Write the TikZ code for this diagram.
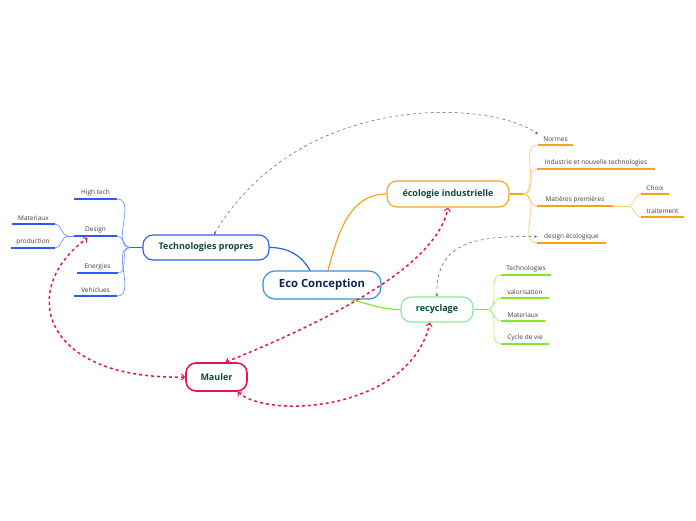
\documentclass[tikz,border=0pt]{standalone}
\usepackage{fontspec}
\setmainfont{Open Sans}
\usetikzlibrary{arrows.meta, positioning, calc}

\definecolor{ecoblue}{HTML}{3A8FD8}
\definecolor{techblue}{HTML}{2B5CF2}
\definecolor{techlight}{HTML}{7099FA}
\definecolor{ecolorange}{HTML}{F8A21C}
\definecolor{ecollight}{HTML}{FBC877}
\definecolor{recgreen}{HTML}{86E62A}
\definecolor{reclight}{HTML}{B0EE6C}
\definecolor{recbox}{HTML}{86E8A0}
\definecolor{maulred}{HTML}{E3145A}
\definecolor{topictext}{HTML}{0E4A3A}
\definecolor{centretext}{HTML}{12234F}
\definecolor{leaftext}{HTML}{3D3D3D}

\begin{document}
\begin{tikzpicture}[x=1pt, y=1pt, >=Stealth,
  centre/.style={draw=ecoblue, rounded corners=12pt, fill=white, line width=1.2pt,
        inner sep=0pt, text=centretext, font=\bfseries\fontsize{11.3}{13}\selectfont},
  topic/.style={draw, rounded corners=10pt, fill=white, line width=1.1pt,
        minimum height=25pt, inner sep=0pt, text=topictext,
        font=\bfseries\fontsize{9}{11}\selectfont},
  leaf/.style={anchor=south, inner xsep=0pt, inner ysep=3pt, text=leaftext,
        font=\fontsize{6.5}{8}\selectfont},
  twig/.style={line width=0.7pt},
  uline/.style={line width=1.6pt},
  relation/.style={gray!70!black, line width=0.5pt, dash pattern=on 3pt off 3pt,
        {Stealth[length=2.5pt, width=2.5pt]}-{Stealth[length=2.5pt, width=2.5pt]}},
  link/.style={maulred, line width=1.5pt, dash pattern=on 3pt off 3pt,
        {Straight Barb[length=3pt, width=6pt, line width=1pt]}-{Straight Barb[length=3pt, width=6pt, line width=1pt]}}
]
  \useasboundingbox (0,0) rectangle (696,-520);

  % main topics
  \node[centre, minimum width=118, minimum height=28] (eco) at (322,-285) {Eco Conception};
  \node[topic, draw=techblue, minimum width=126] (tech) at (206,-247.5) {Technologies propres};
  \node[topic, draw=ecolorange, minimum width=122, minimum height=26] (ecol) at (448,-194) {écologie industrielle};
  \node[topic, draw=recbox, minimum width=72] (rec) at (437,-309.5) {recyclage};
  \node[topic, draw=maulred, line width=1.6pt, minimum width=61, minimum height=28] (mauler) at (216.5,-377) {Mauler};

  % Technologies propres
  \node[leaf, minimum width=43] (hightech) at (95.5,-199) {High tech};
  \node[leaf, minimum width=43] (design) at (95.5,-236) {Design};
  \node[leaf, minimum width=41] (energies) at (97.5,-273) {Energies};
  \node[leaf, minimum width=43] (vehicules) at (95.5,-296) {Vehiclues};
  \node[leaf, minimum width=43] (materiaux) at (33.5,-224) {Materiaux};
  \node[leaf, minimum width=44] (production) at (33,-248) {production};
  \coordinate (techjoint) at (130,-247.5);
  \coordinate (designjoint) at (68,-236);

  % écologie industrielle
  \node[leaf, minimum width=35] (normes) at (555.5,-145) {Normes};
  \node[leaf, minimum width=118] (industrie) at (596,-169) {Industrie et nouvelle technologies};
  \node[leaf, minimum width=76] (matieres) at (575,-206) {Matières premières};
  \node[leaf, minimum width=28] (choix) at (655,-194) {Choix};
  \node[leaf, minimum width=43] (traitement) at (662.5,-217) {traitement};
  \node[leaf, minimum width=69] (designeco) at (571.5,-243) {design écologique};
  \coordinate (ecoljoint) at (523,-194);
  \coordinate (matjoint) at (628,-206);

  % recyclage
  \node[leaf, minimum width=50] (technos) at (526,-275) {Technologies};
  \node[leaf, minimum width=48] (valorisation) at (525,-298) {valorisation};
  \node[leaf, minimum width=44] (materiauxr) at (523,-321) {Materiaux};
  \node[leaf, minimum width=48] (cycle) at (525,-344) {Cycle de vie};
  \coordinate (recjoint) at (487,-309.5);

  % branches from the centre
  \draw[techblue, line width=1.2pt] ($(eco.north)+(-12,0)$) to[out=120, in=0] (tech.east);
  \draw[ecolorange, line width=1.2pt] ($(eco.north)+(6,0)$) to[out=75, in=180] (ecol.west);
  \draw[recgreen, line width=1.2pt] ($(eco.south)+(28,0)$) to[out=-12, in=180] (rec.west);

  % underlines
  \foreach \n in {hightech, design, energies, vehicules, materiaux, production}
    \draw[uline, techblue] (\n.south west) -- (\n.south east);
  \foreach \n in {normes, industrie, matieres, choix, traitement, designeco}
    \draw[uline, ecolorange] (\n.south west) -- (\n.south east);
  \foreach \n in {technos, valorisation, materiauxr, cycle}
    \draw[uline, recgreen] (\n.south west) -- (\n.south east);

  % twigs
  \draw[techblue, line width=1.1pt] (tech.west) -- (techjoint);
  \foreach \n in {hightech, design, energies, vehicules}
    \draw[twig, techlight] (techjoint) to[out=180, in=0] (\n.south east);
  \draw[twig, techlight] (design.south west) -- (designjoint);
  \foreach \n in {materiaux, production}
    \draw[twig, techlight] (designjoint) to[out=180, in=0] (\n.south east);

  \draw[ecolorange, line width=1.1pt] (ecol.east) -- (ecoljoint);
  \foreach \n in {normes, industrie, matieres, designeco}
    \draw[twig, ecollight] (ecoljoint) to[out=0, in=180] (\n.south west);
  \draw[twig, ecollight] (matieres.south east) -- (matjoint);
  \foreach \n in {choix, traitement}
    \draw[twig, ecollight] (matjoint) to[out=0, in=180] (\n.south west);

  \draw[recgreen, line width=1.1pt] (rec.east) -- (recjoint);
  \foreach \n in {technos, valorisation, materiauxr, cycle}
    \draw[twig, reclight] (recjoint) to[out=0, in=180] (\n.south west);

  % relations
  \draw[relation] ($(tech.north)+(8,0)$) .. controls (300,-90) and (490,-100) .. (normes.north west);
  \draw[relation] (rec.north) .. controls (435,-240) and (480,-236) .. (designeco.west);

  \draw[link] ($(mauler.north)+(9,0)$) .. controls (380,-300) and (440,-250) .. (ecol.south);
  \draw[link] (mauler.west) .. controls (40,-380) and (18,-288) .. ($(design.south)+(-8,-2)$);
  \draw[link] ($(mauler.south)+(21,0)$) .. controls (270,-420) and (410,-410) .. ($(rec.south)+(-7,0)$);
\end{tikzpicture}
\end{document}
